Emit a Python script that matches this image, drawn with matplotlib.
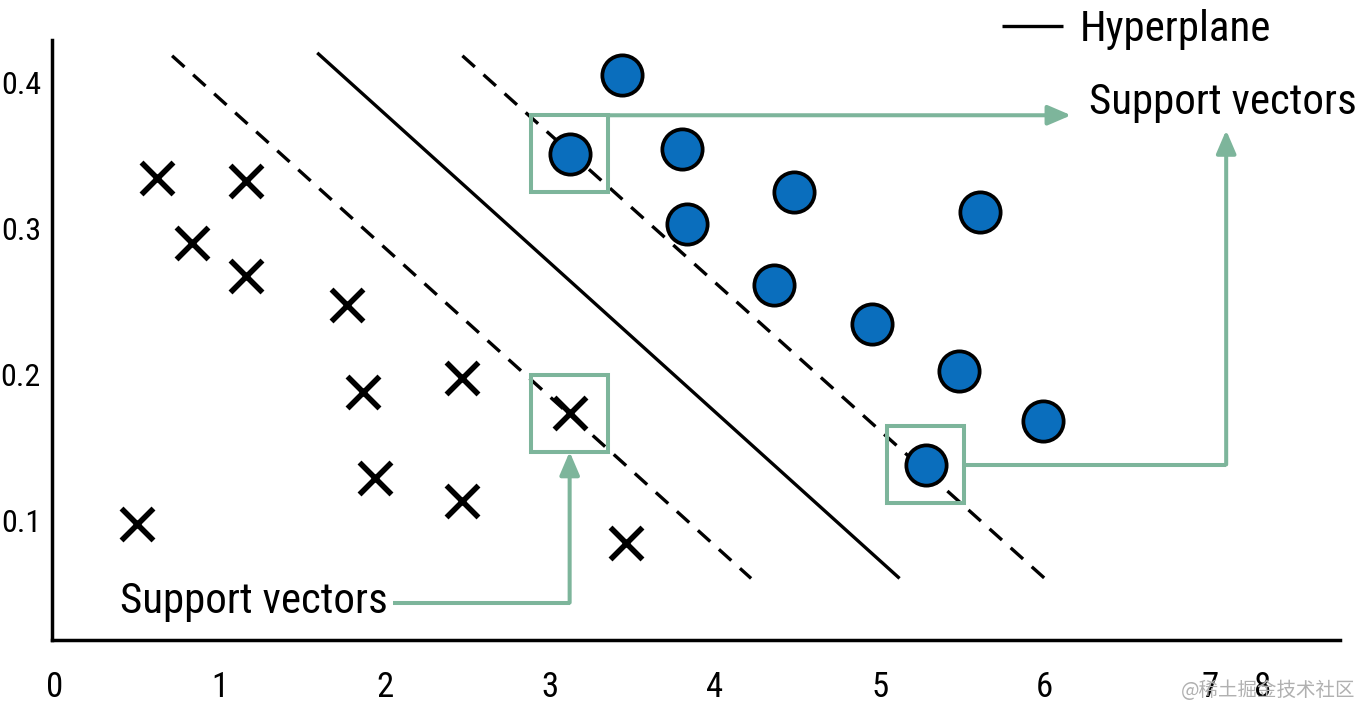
import matplotlib
matplotlib.use("Agg")
import matplotlib.pyplot as plt
from matplotlib.patches import Rectangle
from matplotlib import font_manager

# pick a condensed font if one is installed
_avail = {(f.name, f.stretch) for f in font_manager.fontManager.ttflist}
_names = {f.name for f in font_manager.fontManager.ttflist}
FONT = 'DejaVu Sans'
STRETCH = 'normal'
for cand in ['Ubuntu Condensed', 'Roboto Condensed', 'Liberation Sans Narrow',
             'Open Sans Condensed', 'Noto Sans Condensed']:
    if cand in _names:
        FONT = cand
        break
else:
    for nm in ['Noto Sans', 'Open Sans', 'Roboto', 'DejaVu Sans']:
        if any(n == nm and st in ('condensed', 'semi-condensed', 'extra-condensed')
               for n, st in _avail):
            FONT = nm
            STRETCH = 'condensed'
            break
    else:
        FONT = 'Roboto' if 'Roboto' in _names else 'DejaVu Sans'

plt.rcParams['font.family'] = [FONT, 'DejaVu Sans']
plt.rcParams['font.stretch'] = STRETCH

# --- data ---
cross_x = [0.62, 1.16, 0.83, 1.16, 1.77, 1.87, 2.47, 3.12, 1.94, 2.47, 0.50, 3.46]
cross_y = [0.334, 0.332, 0.290, 0.267, 0.247, 0.188, 0.197, 0.173, 0.129, 0.113, 0.097, 0.084]
circle_x = [3.44, 3.12, 3.80, 4.48, 3.83, 5.61, 4.36, 4.95, 5.48, 5.99, 5.28]
circle_y = [0.405, 0.351, 0.354, 0.325, 0.303, 0.311, 0.261, 0.234, 0.202, 0.168, 0.138]
hyper_x = [1.59, 5.12]
hyper_y = [0.420, 0.060]
margin_lo_x = [0.71, 4.22]
margin_lo_y = [0.418, 0.060]
margin_hi_x = [2.47, 6.00]
margin_hi_y = [0.418, 0.060]
support_x = [3.12, 3.12, 5.28]
support_y = [0.351, 0.173, 0.138]
xtick_pos = [0, 1, 2, 3, 4, 5, 6, 7, 7.32]
xtick_labels = ['0', '1', '2', '3', '4', '5', '6', '7', '8']
ytick_pos = [0.1, 0.2, 0.3, 0.4]
ytick_labels = ['0.1', '0.2', '0.3', '0.4']

GREEN = '#7db59b'
BLUE = '#0a6ebd'
TXT = dict(fontsize=31)

fig = plt.figure(figsize=(13.62, 7.11), dpi=100)
ax = fig.add_axes([52/1362, 71/711, (1340-52)/1362, (640-40)/711])
ax.set_xlim(-0.018, 7.79)
ax.set_ylim(0.0178, 0.4288)

for s in ['top', 'right']:
    ax.spines[s].set_visible(False)
for s in ['left', 'bottom']:
    ax.spines[s].set_linewidth(2.5)

ax.set_xticks(xtick_pos, xtick_labels)
ax.set_yticks(ytick_pos, ytick_labels)
ax.tick_params(axis='both', length=0)
ax.tick_params(axis='x', pad=22, labelsize=25)
ax.tick_params(axis='y', pad=8, labelsize=23)

# lines
ax.plot(hyper_x, hyper_y, color='black', lw=2.4, label='Hyperplane', solid_capstyle='butt')
ax.plot(margin_lo_x, margin_lo_y, color='black', lw=2.4, dashes=(5, 3.5))
ax.plot(margin_hi_x, margin_hi_y, color='black', lw=2.4, dashes=(5, 3.5))

# support vector boxes
bw, bh = 0.467, 0.0525
for sx, sy in zip(support_x, support_y):
    ax.add_patch(Rectangle((sx - bw/2, sy - bh/2), bw, bh, fill=False,
                           edgecolor=GREEN, lw=2.9, zorder=2))

# points
ax.scatter(cross_x, cross_y, marker='x', s=23**2, c='black', linewidths=4, zorder=4)
ax.scatter(circle_x, circle_y, marker='o', s=29**2, c=BLUE, edgecolors='black',
           linewidths=2.7, zorder=4)

# arrows
arrow_kw = dict(arrowstyle='-|>,head_length=1.4,head_width=0.6', color=GREEN, lw=2.9,
                shrinkA=0, shrinkB=0)
# top box -> right label
x0 = support_x[0] + bw/2
y0 = support_y[0] + bh/2
ax.annotate('', xy=(6.16, y0), xytext=(x0, y0), arrowprops=arrow_kw)
# bottom-right box -> up to label
x2 = support_x[2] + bw/2
y2 = support_y[2]
ax.plot([x2, 7.10], [y2, y2], color=GREEN, lw=2.9, solid_capstyle='butt', zorder=2)
ax.annotate('', xy=(7.10, 0.367), xytext=(7.10, y2), arrowprops=arrow_kw)
# bottom label -> middle box
ax.plot([2.05, support_x[1]], [0.0434, 0.0434], color=GREEN, lw=2.9,
        solid_capstyle='butt', zorder=2)
ax.annotate('', xy=(support_x[1], support_y[1] - bh/2), xytext=(support_x[1], 0.0434),
            arrowprops=arrow_kw)

# texts
ax.text(0.394, 0.0445, 'Support vectors', ha='left', va='center', **TXT)
ax.text(6.27, 0.3857, 'Support vectors', ha='left', va='center', **TXT)

leg = ax.legend(loc='center left', bbox_to_anchor=(1002/1362, 1 - 30/711),
                bbox_transform=fig.transFigure, frameon=False,
                prop=dict(size=31),
                handlelength=1.42, handletextpad=0.39, borderpad=0, borderaxespad=0)

fig.text(1355/1362, 1 - 690/711, '@稀土掘金技术社区', fontsize=14, color='#b0b0b0',
         ha='right', va='center', family=['Noto Sans CJK SC', 'DejaVu Sans'])

fig.savefig('out.png', dpi=100)
